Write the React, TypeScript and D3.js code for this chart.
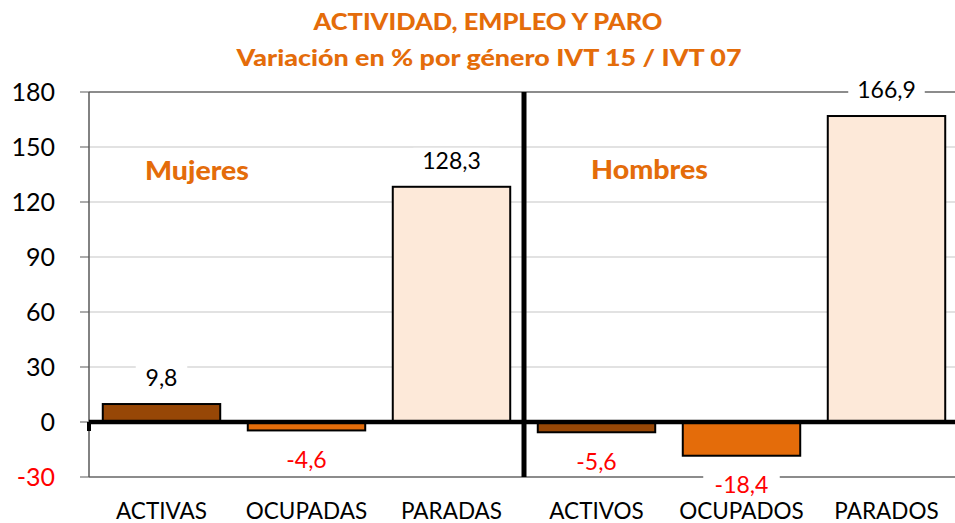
import React from "react";
import * as d3 from "d3";

const categories = ["ACTIVAS", "OCUPADAS", "PARADAS", "ACTIVOS", "OCUPADOS", "PARADOS"];
const values = [9.8, -4.6, 128.3, -5.6, -18.4, 166.9];
const valueLabels = ["9,8", "-4,6", "128,3", "-5,6", "-18,4", "166,9"];
const barColors = ["#974706", "#E46C0A", "#FDE9D9", "#974706", "#E46C0A", "#FDE9D9"];
const yTicks = [-30, 0, 30, 60, 90, 120, 150, 180];
const groupLabels = ["Mujeres", "Hombres"];
const titleLines = ["ACTIVIDAD, EMPLEO Y PARO", "Variación en % por género IVT 15 / IVT 07"];

const W = 955;
const H = 523;
const FONT = "Lato, 'Open Sans', sans-serif";
const ORANGE = "#E46C0A";

export default function App() {
  const left = 89;
  const right = 959;
  const lineRight = 955;
  const top = 92;
  const bottom = 477;

  const y = d3.scaleLinear().domain([-30, 180]).range([bottom, top]);
  const x = d3
    .scaleBand<string>()
    .domain(categories)
    .range([left, right])
    .paddingInner(0.19)
    .paddingOuter(0.095);
  const step = x.step();
  const bw = x.bandwidth();
  const dividerX = (x(categories[3]) as number) - (step - bw) / 2;

  const y0 = y(0);

  return (
    <svg
      width={W}
      height={H}
      style={{ position: "absolute", left: 0, top: 0, background: "#fff" }}
      fontFamily={FONT}
    >
      <rect x={0} y={0} width={W} height={H} fill="#fff" />
      {/* Title */}
      <text x={488} y={29.5} textAnchor="middle" fill={ORANGE} fontWeight="900" fontSize={22.5} textLength={349} lengthAdjust="spacingAndGlyphs">
        {titleLines[0]}
      </text>
      <text x={489} y={65.5} textAnchor="middle" fill={ORANGE} fontWeight="900" fontSize={22.5} textLength={505} lengthAdjust="spacingAndGlyphs">
        {titleLines[1]}
      </text>

      {/* gridlines */}
      {yTicks.map((t) => {
        if (t === 0) return null;
        const isEdge = t === 180 || t === -30;
        return (
          <line
            key={"g" + t}
            x1={left}
            x2={lineRight}
            y1={y(t)}
            y2={y(t)}
            stroke={isEdge ? "#8c8c8c" : "#d9d9d9"}
            strokeWidth={isEdge ? 2 : 1.3}
          />
        );
      })}

      {/* y tick marks and labels */}
      {yTicks.map((t) => (
        <g key={"t" + t}>
          <line x1={left - 9} x2={left} y1={y(t)} y2={y(t)} stroke="#7f7f7f" strokeWidth={1.3} />
          <text
            x={55}
            y={y(t)}
            dy="0.36em"
            textAnchor="end"
            fontSize={25}
            fill={t < 0 ? "#ff0000" : "#000"}
          >
            {t}
          </text>
        </g>
      ))}
      {/* left axis line */}
      <line x1={left} x2={left} y1={top} y2={bottom} stroke="#595959" strokeWidth={1.5} />

      {/* bars */}
      {categories.map((c, i) => {
        const v = values[i];
        const yTop = y(Math.max(0, v));
        const yBot = y(Math.min(0, v));
        return (
          <rect
            key={c}
            x={x(c)}
            y={yTop}
            width={bw}
            height={yBot - yTop}
            fill={barColors[i]}
            stroke="#000"
            strokeWidth={2}
          />
        );
      })}

      {/* zero line */}
      <line x1={left} x2={lineRight} y1={y0} y2={y0} stroke="#000" strokeWidth={4.5} />
      <rect x={left - 2} y={y0} width={4} height={9} fill="#000" />

      {/* divider */}
      <line x1={dividerX} x2={dividerX} y1={top} y2={bottom} stroke="#000" strokeWidth={5} />

      {/* value labels */}
      {categories.map((c, i) => {
        const v = values[i];
        const cx = (x(c) as number) + bw / 2;
        const cy = v >= 0 ? y(v) - 26 : y(v) + 29;
        const label = valueLabels[i];
        const w = label.length * 12.5 + 14;
        return (
          <g key={"l" + c}>
            <rect x={cx - w / 2} y={cy - 13} width={w} height={26} fill="#fff" />
            <text
              x={cx}
              y={cy}
              dy="0.36em"
              textAnchor="middle"
              fontSize={23}
              fill={v < 0 ? "#ff0000" : "#000"}
            >
              {label}
            </text>
          </g>
        );
      })}

      {/* group labels */}
      <text x={197} y={180} textAnchor="middle" fill={ORANGE} fontWeight="900" fontSize={26} textLength={104} lengthAdjust="spacingAndGlyphs">
        {groupLabels[0]}
      </text>
      <text x={649.5} y={179} textAnchor="middle" fill={ORANGE} fontWeight="900" fontSize={26} textLength={117} lengthAdjust="spacingAndGlyphs">
        {groupLabels[1]}
      </text>

      {/* category labels */}
      {categories.map((c) => (
        <text
          key={"c" + c}
          x={(x(c) as number) + bw / 2}
          y={519}
          textAnchor="middle"
          fontSize={22.5}
          fill="#000"
        >
          {c}
        </text>
      ))}
    </svg>
  );
}
